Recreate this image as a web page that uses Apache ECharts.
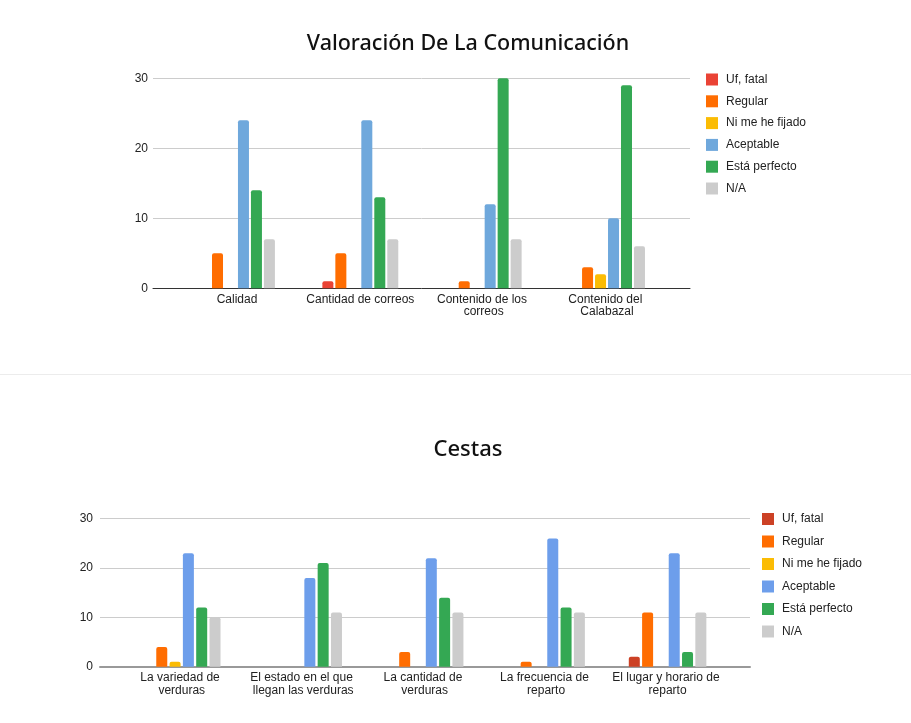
<!DOCTYPE html>
<html>
<head>
<meta charset="utf-8">
<script src="https://cdn.jsdelivr.net/npm/echarts@6/dist/echarts.min.js"></script>
<style>
  html, body { margin: 0; padding: 0; background: #fff; }
  #c1 { position: absolute; left: 0; top: 0; width: 911px; height: 374px; }
  #sep { position: absolute; left: 0; top: 374px; width: 911px; height: 1px; background: #ececec; }
  #c2 { position: absolute; left: 0; top: 375px; width: 911px; height: 348px; }
</style>
</head>
<body>
<div id="c1"></div>
<div id="sep"></div>
<div id="c2"></div>
<script>
// ---- Data ----
const seriesNames = ['Uf, fatal', 'Regular', 'Ni me he fijado', 'Aceptable', 'Está perfecto', 'N/A'];
const yTicks = [0, 10, 20, 30];

const comTitle = 'Valoración De La Comunicación';
const comCategories = ['Calidad', 'Cantidad de correos', 'Contenido de los correos', 'Contenido del Calabazal'];
const comUfFatal = [0, 1, 0, 0];
const comRegular = [5, 5, 1, 3];
const comNiMeHeFijado = [0, 0, 0, 2];
const comAceptable = [24, 24, 12, 10];
const comEstaPerfecto = [14, 13, 30, 29];
const comNA = [7, 7, 7, 6];

const cestasTitle = 'Cestas';
const cestasCategories = ['La variedad de verduras', 'El estado en el que llegan las verduras', 'La cantidad de verduras', 'La frecuencia de reparto', 'El lugar y horario de reparto'];
const cestasUfFatal = [0, 0, 0, 0, 2];
const cestasRegular = [4, 0, 3, 1, 11];
const cestasNiMeHeFijado = [1, 0, 0, 0, 0];
const cestasAceptable = [23, 18, 22, 26, 23];
const cestasEstaPerfecto = [12, 21, 14, 12, 3];
const cestasNA = [10, 11, 11, 11, 11];

// ---- Styles ----
const comColors = ['#ea4335', '#ff6d01', '#fbbc04', '#6fa8dc', '#34a853', '#cccccc'];
const cestasColors = ['#cc4125', '#ff6d01', '#fbbc04', '#6d9eeb', '#34a853', '#cccccc'];
const FONT = '"Liberation Sans", Arial, sans-serif';
const TITLE_FONT = '"Noto Sans", "Open Sans", sans-serif';

function buildOption(cfg) {
  const yMin = yTicks[0], yMax = yTicks[yTicks.length - 1], yInt = yTicks[1] - yTicks[0];
  const series = cfg.values.map((vals, i) => ({
    name: seriesNames[i],
    type: 'bar',
    xAxisIndex: 1,
    yAxisIndex: 1,
    data: vals,
    barWidth: cfg.barWidth,
    barGap: cfg.barGap,
    itemStyle: { color: cfg.colors[i], borderRadius: [2, 2, 0, 0] },
    emphasis: { disabled: true },
    animation: false
  }));
  return {
    animation: false,
    color: cfg.colors,
    title: {
      text: cfg.title,
      left: cfg.titleX,
      top: cfg.titleTop,
      padding: 0,
      textAlign: 'center',
      textStyle: { fontFamily: TITLE_FONT, fontSize: cfg.titleSize, fontWeight: 500, color: '#111' }
    },
    legend: {
      orient: 'vertical',
      left: cfg.legendLeft,
      top: cfg.legendTop,
      padding: 0,
      itemWidth: 12,
      itemHeight: 12,
      itemGap: cfg.legendGap,
      icon: 'rect',
      selectedMode: false,
      data: seriesNames,
      textStyle: { fontFamily: FONT, fontSize: 12, color: '#222', lineHeight: 12, padding: [0, 0, 0, 3] }
    },
    grid: [
      { left: cfg.axisLeft, width: cfg.axisWidth, top: cfg.top, height: cfg.height },
      { left: cfg.catLeft, width: cfg.catWidth, top: cfg.top, height: cfg.height }
    ],
    xAxis: [
      {
        gridIndex: 0, type: 'category', data: cfg.categories,
        axisLine: { show: true, lineStyle: { color: cfg.axisColor, width: cfg.axisLineWidth } },
        axisTick: { show: false }, axisLabel: { show: false }, splitLine: { show: false }
      },
      {
        gridIndex: 1, type: 'category', data: cfg.categories,
        axisLine: { show: false }, axisTick: { show: false },
        axisLabel: {
          interval: 0, margin: 5, fontFamily: FONT, fontSize: 12, color: '#222',
          lineHeight: 12.5, width: 115, overflow: 'break'
        }
      }
    ],
    yAxis: [
      {
        gridIndex: 0, type: 'value', min: yMin, max: yMax, interval: yInt,
        axisLine: { show: false }, axisTick: { show: false },
        axisLabel: { margin: cfg.yLabelMargin, fontFamily: FONT, fontSize: 12, color: '#222' },
        splitLine: { lineStyle: { color: '#cccccc', width: 1 } }
      },
      {
        gridIndex: 1, type: 'value', min: yMin, max: yMax, interval: yInt, show: false,
        splitLine: { show: false }
      }
    ],
    series: series
  };
}

const chart1 = echarts.init(document.getElementById('c1'), null, { renderer: 'canvas' });
chart1.setOption(buildOption({
  title: comTitle, titleX: 468, titleTop: 33, titleSize: 21.5,
  categories: comCategories,
  values: [comUfFatal, comRegular, comNiMeHeFijado, comAceptable, comEstaPerfecto, comNA],
  colors: comColors,
  axisLeft: 153, axisWidth: 537, catLeft: 175.3, catWidth: 493.4,
  top: 78.3, height: 210, yLabelMargin: 5,
  axisColor: '#333', axisLineWidth: 1,
  barWidth: 11, barGap: '18%',
  legendLeft: 706, legendTop: 73.5, legendGap: 9.8
}));

const chart2 = echarts.init(document.getElementById('c2'), null, { renderer: 'canvas' });
chart2.setOption(buildOption({
  title: cestasTitle, titleX: 468, titleTop: 64, titleSize: 22,
  categories: cestasCategories,
  values: [cestasUfFatal, cestasRegular, cestasNiMeHeFijado, cestasAceptable, cestasEstaPerfecto, cestasNA],
  colors: cestasColors,
  axisLeft: 100, axisWidth: 650, catLeft: 121, catWidth: 607.3,
  top: 143.7, height: 148, yLabelMargin: 7,
  axisColor: '#999', axisLineWidth: 2,
  barWidth: 11, barGap: '21%',
  legendLeft: 762, legendTop: 138, legendGap: 10.5
}));
</script>
</body>
</html>
